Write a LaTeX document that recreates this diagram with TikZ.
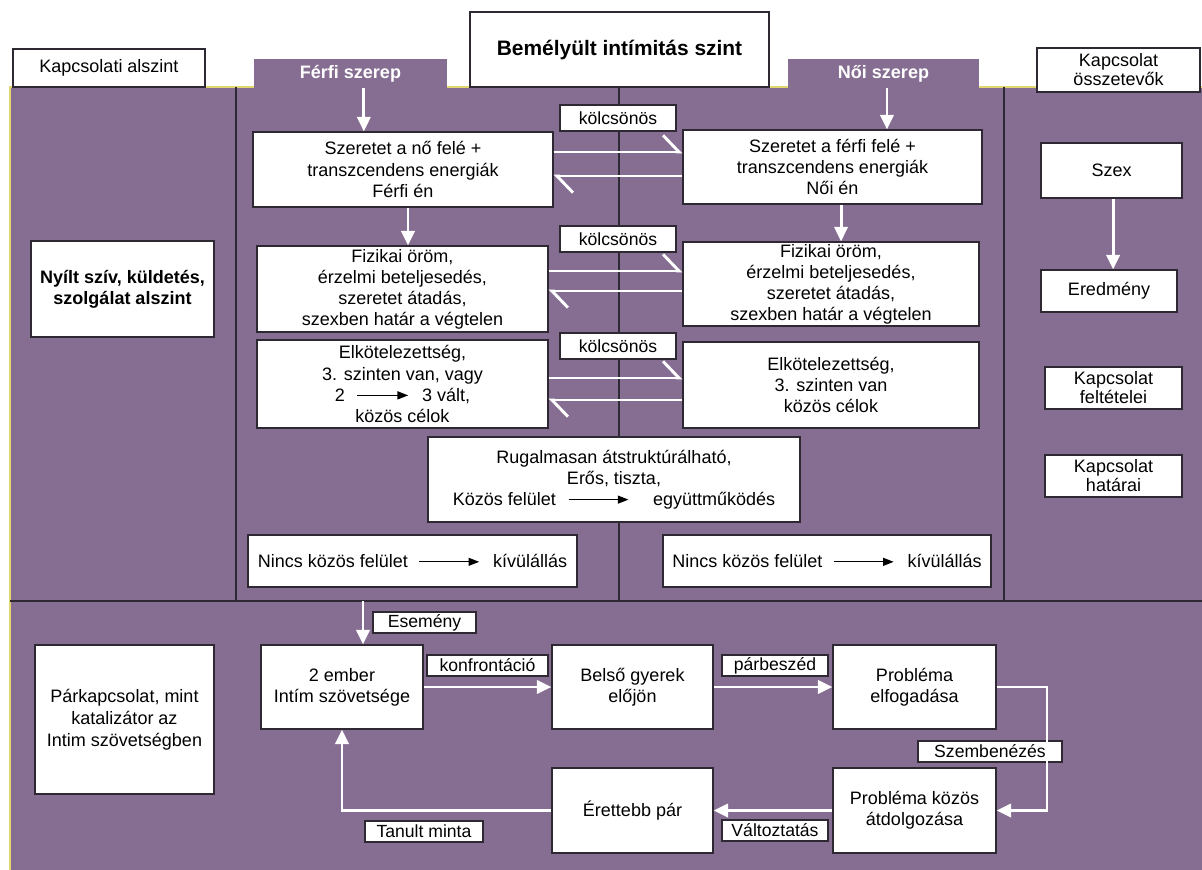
\documentclass[tikz,border=0pt]{standalone}
\usepackage{fontspec}
\setmainfont{Liberation Sans}
\usetikzlibrary{arrows.meta}
\definecolor{purp}{RGB}{134,109,146}
\definecolor{ylw}{RGB}{226,214,110}
\definecolor{edge}{RGB}{45,40,50}
\newcommand\blkarr[1]{\tikz[baseline=-0.6ex]\draw[draw=black,line width=0.9pt,-{Triangle[length=8pt,width=6pt]}](0pt,0pt)--(#1,0pt);}
\tikzset{
  rect/.style args={#1/#2/#3/#4}{minimum width={(#3-#1)*0.75pt}, minimum height={(#4-#2)*0.75pt},
              at={({(#1+#3)/2},{(#2+#4)/2})}},
  box/.style={draw=edge, line width=0.8pt, fill=white, inner sep=0pt, align=center, text=black,
              font=\fontsize{13.5}{15.8}\selectfont},
  lbl/.style={box, font=\fontsize{13.2}{15.8}\selectfont},
  tbox/.style={box, font=\fontsize{13.5}{14.2}\selectfont},
  tab/.style={fill=purp, inner sep=0pt, text=white, font=\fontsize{13.5}{15.8}\selectfont\bfseries},
  warr/.style={draw=white, line width=2.2pt, -{Triangle[length=11pt,width=10pt]}},
  harp/.style={draw=white, line width=2.2pt, -{Straight Barb[left,length=12pt,width=25pt]}},
  divl/.style={draw=edge, line width=0.9pt},
}
\begin{document}
\begin{tikzpicture}[x=0.75pt,y=-0.75pt]
\fill[white] (0,0) rectangle (1202,870);
\useasboundingbox (0,0) rectangle (1202,870);
% background panel
\fill[purp] (10,87) rectangle (1202,870);
\draw[ylw,line width=0.8pt] (10,870) -- (10,87) -- (1202,87);
\draw[divl] (236,87) -- (236,601);
\draw[divl] (619,87) -- (619,601);
\draw[divl] (1004,87) -- (1004,601);
\draw[divl] (10,601) -- (1202,601);

% header
\node[box, rect=13/49/205/87] (KA) {Kapcsolati alszint};
\node[tab, rect=254/59/447/88] (FS) {Férfi szerep};
\node[box, rect=470/12/769/87, font=\fontsize{15.7}{18}\selectfont\bfseries] (TI) {Bemélyült intímitás szint};
\node[tab, rect=788/59/979/88] (NS) {Női szerep};
\node[tbox, rect=1037/48/1200/92] (KO) {Kapcsolat\\összetevők};

% left column
\node[box, rect=31/241/214/337, font=\fontsize{13.5}{15.8}\selectfont\bfseries] (NY) {Nyílt szív, küldetés,\\szolgálat alszint};

% middle rows
\node[box, rect=253/132/553/207] (F1) {Szeretet a nő felé +\\transzcendens energiák\\Férfi én};
\node[box, rect=683/130/982/204] (N1) {Szeretet a férfi felé +\\transzcendens energiák\\Női én};
\node[box, rect=257/246/548/332] (F2) {Fizikai öröm,\\érzelmi beteljesedés,\\szeretet átadás,\\szexben határ a végtelen};
\node[box, rect=683/242/979/326] (N2) {Fizikai öröm,\\érzelmi beteljesedés,\\szeretet átadás,\\szexben határ a végtelen};
\node[box, rect=257/340/548/428] (F3) {Elkötelezettség,\\3. szinten van, vagy\\2\hspace{9pt}\blkarr{38pt}\hspace{10pt}3 vált,\\közös célok};
\node[box, rect=683/342/979/428] (N3) {Elkötelezettség,\\3. szinten van\\közös célok};
\node[lbl, rect=560/105/676/131] (K1) {kölcsönös};
\node[lbl, rect=560/226/676/252] (K2) {kölcsönös};
\node[lbl, rect=560/333/676/359] (K3) {kölcsönös};
\node[box, rect=428/437/800/522] (RU) {Rugalmasan átstruktúrálható,\\Erős, tiszta,\\Közös felület\hspace{9pt}\blkarr{45pt}\hspace{18pt}együttműködés};
\node[box, rect=248/535/577/587] (NL) {Nincs közös felület\hspace{8pt}\blkarr{45pt}\hspace{10pt}kívülállás};
\node[box, rect=663/535/991/587] (NR) {Nincs közös felület\hspace{8pt}\blkarr{45pt}\hspace{10pt}kívülállás};

% right column
\node[box, rect=1041/143/1182/198] (SZ) {Szex};
\node[box, rect=1041/270/1177/312] (ER) {Eredmény};
\node[tbox, rect=1045/367/1182/409] (KF) {Kapcsolat\\feltételei};
\node[tbox, rect=1045/455/1182/497] (KH) {Kapcsolat\\határai};

% bottom section
\node[box, rect=35/645/214/794, font=\fontsize{13.5}{16.4}\selectfont] (PK) {Párkapcsolat, mint\\katalizátor az\\Intim szövetségben};
\node[box, rect=261/645/423/729] (E2) {2 ember\\Intím szövetsége};
\node[box, rect=552/645/713/729] (BG) {Belső gyerek\\előjön};
\node[box, rect=833/645/996/729] (PE) {Probléma\\elfogadása};
\node[box, rect=833/768/996/853] (PA) {Probléma közös\\átdolgozása};
\node[box, rect=552/768/713/853] (EP) {Érettebb pár};
\node[lbl, rect=373/612/476/633] (LES) {Esemény};
\node[lbl, rect=427/655/548/676] (LKO) {konfrontáció};
\node[lbl, rect=722/655/828/676] (LPB) {párbeszéd};
\node[lbl, rect=918/741/1062/762] (LSZ) {Szembenézés};
\node[lbl, rect=722/820/828/841] (LVA) {Változtatás};
\node[lbl, rect=365/821/483/842] (LTM) {Tanult minta};

% vertical arrows middle
\draw[warr] ([xshift=10pt]FS.south) -- ([xshift=10pt]FS.south |- F1.north);
\draw[warr] ([xshift=3.75pt]F1.south) -- ([xshift=3.75pt]F1.south |- F2.north);
\draw[warr] ([xshift=2.6pt]NS.south) -- ([xshift=2.6pt]NS.south |- N1.north);
\draw[warr] ([xshift=6.4pt]N1.south) -- ([xshift=6.4pt]N1.south |- N2.north);

% mutual harpoons
\draw[harp] (F1.east |- 0,152) -- (N1.west |- 0,152);
\draw[harp] (N1.west |- 0,176) -- (F1.east |- 0,176);
\draw[harp] (F2.east |- 0,271) -- (N2.west |- 0,271);
\draw[harp] (N2.west |- 0,291) -- (F2.east |- 0,291);
\draw[harp] (F3.east |- 0,378) -- (N3.west |- 0,378);
\draw[harp] (N3.west |- 0,400) -- (F3.east |- 0,400);

% right column arrow
\draw[warr] ([xshift=1.2pt]SZ.south) -- ([xshift=1.2pt]SZ.south |- ER.north);

% bottom cycle
\coordinate (ES) at (363,601);
\coordinate (ELB) at (1047,687);
\draw[warr] (ES) -- (ES |- E2.north);
\draw[warr] (E2.east) -- (BG.west);
\draw[warr] (BG.east) -- (PE.west);
\draw[warr] (PE.east) -- (PE.east -| ELB) |- (PA.east);
\draw[warr] (PA.west) -- (EP.east);
\draw[warr] (EP.west) -| (E2.south);
\end{tikzpicture}
\end{document}
